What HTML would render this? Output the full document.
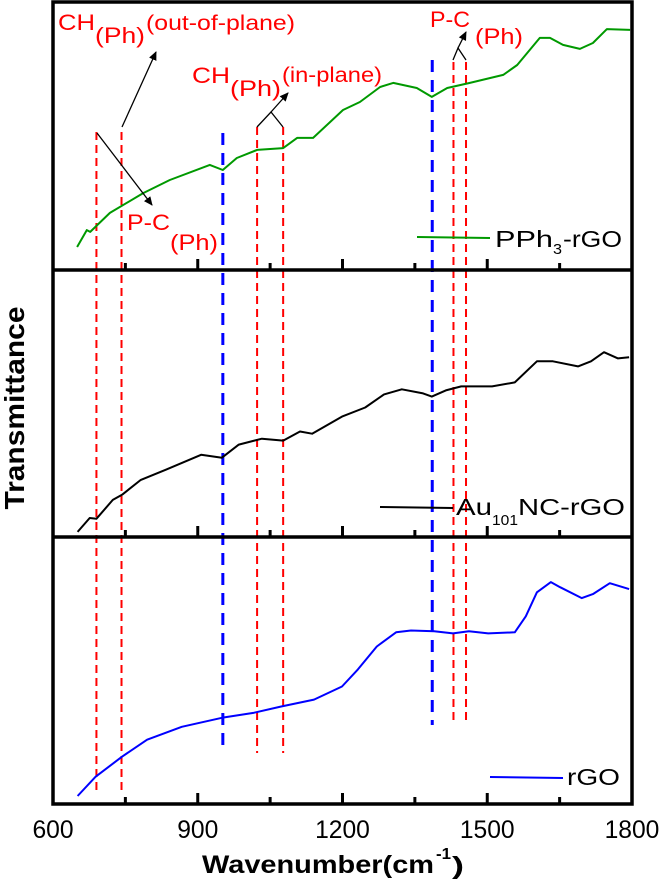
<!DOCTYPE html>
<html><head><meta charset="utf-8"><style>
html,body{margin:0;padding:0;background:#fff;}
svg{display:block;font-family:"Liberation Sans",Arial,sans-serif;}
</style></head><body>
<svg id="chart" width="661" height="881" viewBox="0 0 661 881" xmlns="http://www.w3.org/2000/svg">
<defs><marker id="ah" markerWidth="10" markerHeight="10" refX="8" refY="5" orient="auto" markerUnits="userSpaceOnUse"><path d="M0,1 L9,5 L0,9 z" fill="#000"/></marker></defs>
<g id="marks"></g>
<g id="axes"></g>
<g id="annot" fill="#f00" lengthAdjust="spacingAndGlyphs">
  <g>
    <text x="58" y="30" font-size="22" textLength="37" lengthAdjust="spacingAndGlyphs">CH</text>
    <text x="95" y="43" font-size="22" textLength="50" lengthAdjust="spacingAndGlyphs">(Ph)</text>
    <text x="146" y="30" font-size="21" textLength="149" lengthAdjust="spacingAndGlyphs">(out-of-plane)</text>
  </g>
  <g>
    <text x="127" y="230" font-size="22" textLength="43" lengthAdjust="spacingAndGlyphs">P-C</text>
    <text x="170" y="250" font-size="22" textLength="48" lengthAdjust="spacingAndGlyphs">(Ph)</text>
  </g>
  <g>
    <text x="192" y="83" font-size="22" textLength="38" lengthAdjust="spacingAndGlyphs">CH</text>
    <text x="230" y="96" font-size="22" textLength="51" lengthAdjust="spacingAndGlyphs">(Ph)</text>
    <text x="282" y="82" font-size="21" textLength="100" lengthAdjust="spacingAndGlyphs">(in-plane)</text>
  </g>
  <g>
    <text x="430" y="27" font-size="22" textLength="40" lengthAdjust="spacingAndGlyphs">P-C</text>
    <text x="475" y="44" font-size="22" textLength="48" lengthAdjust="spacingAndGlyphs">(Ph)</text>
  </g>
</g>
<g stroke="#000" stroke-width="1.3" fill="none">
  <line x1="122" y1="127" x2="156" y2="52" marker-end="url(#ah)"/>
  <line x1="97" y1="133" x2="152" y2="205" marker-end="url(#ah)"/>
  <polyline points="257,127 271,112 283,127"/>
  <line x1="271" y1="112" x2="288" y2="93" marker-end="url(#ah)"/>
  <polyline points="453,60 458,48 466,60"/>
  <line x1="458" y1="48" x2="466" y2="32" marker-end="url(#ah)"/>
</g>
<g fill="#000">
  <line x1="417" y1="237" x2="490" y2="238" stroke="#090" stroke-width="2"/>
  <g>
    <text x="495" y="247" font-size="23" textLength="58" lengthAdjust="spacingAndGlyphs">PPh</text>
    <text x="553" y="254" font-size="15" textLength="9" lengthAdjust="spacingAndGlyphs">3</text>
    <text x="563" y="247" font-size="23" textLength="59" lengthAdjust="spacingAndGlyphs">-rGO</text>
  </g>
  <line x1="380" y1="507" x2="453" y2="508" stroke="#000" stroke-width="2"/>
  <g>
    <text x="456" y="515" font-size="23" textLength="36" lengthAdjust="spacingAndGlyphs">Au</text>
    <text x="492" y="525" font-size="15" textLength="26" lengthAdjust="spacingAndGlyphs">101</text>
    <text x="518" y="515" font-size="23" textLength="107" lengthAdjust="spacingAndGlyphs">NC-rGO</text>
  </g>
  <line x1="490" y1="777" x2="563" y2="778" stroke="#00f" stroke-width="2"/>
  <text x="567" y="785" font-size="23" textLength="53" lengthAdjust="spacingAndGlyphs">rGO</text>
</g>
<text x="0" y="0" transform="translate(24 408) rotate(-90)" text-anchor="middle" font-size="28" font-weight="bold" textLength="203" lengthAdjust="spacingAndGlyphs">Transmittance</text>
<g font-weight="bold">
  <text x="202" y="873" font-size="25" textLength="232" lengthAdjust="spacingAndGlyphs">Wavenumber(cm</text>
  <text x="436" y="859" font-size="16" textLength="15" lengthAdjust="spacingAndGlyphs">-1</text>
  <text x="452" y="874" font-size="25" textLength="12" lengthAdjust="spacingAndGlyphs">)</text>
</g>
</svg>
<script>
const pph3W=[650,670,677,718,787,842,925,952,981,1023,1077,1106,1139,1201,1236,1278,1305,1354,1385,1417,1464,1533,1562,1609,1630,1657,1692,1719,1748,1796];
const pph3T=[8.6,14.9,14.2,21.3,28.7,33.6,39.2,37.3,41.8,44.8,45.5,49.3,49.3,59.7,62.7,68.3,69.8,67.9,64.6,67.9,69.8,72.8,76.5,86.6,86.6,84,82.5,84.7,89.9,89.6];
const auW=[651,676,690,724,743,782,834,907,950,985,1033,1077,1112,1137,1199,1247,1286,1323,1367,1385,1414,1446,1510,1557,1603,1636,1688,1715,1742,1771,1794];
const auT=[1.9,7.1,6.8,13.9,15.8,21.4,25.2,30.8,29.7,34.6,36.8,36.1,39.5,38.7,45.1,48.5,53.4,55.3,53.8,52.6,54.9,56.4,56.4,57.9,65.8,65.8,63.9,65.8,69.2,66.9,67.3];
const rgoW=[651,688,743,795,867,950,1017,1073,1141,1199,1232,1271,1311,1342,1390,1429,1462,1502,1557,1580,1603,1632,1651,1696,1719,1754,1794];
const rgoT=[3,10.2,17.7,24.1,28.9,32.3,34.2,36.5,39.1,44,50.4,59,64.3,65,64.7,63.9,64.7,63.9,64.3,70.3,79.3,83.1,81.2,77.1,78.6,82.7,80.5];
const xTicks=[600,750,900,1050,1200,1350,1500,1650,1800];
const xTickLabels=["600","900","1200","1500","1800"];
const redLines=[690,742,1023,1077,1430,1456];
const blueLines=[952,1386];

const NS="http://www.w3.org/2000/svg";
const X0=53,X1=632;
function xs(w){return X0+(w-600)/1200*(X1-X0);}
const panels=[{top:2,bot:270},{top:270,bot:537},{top:537,bot:804}];
function ys(p,v){return panels[p].bot-v/100*(panels[p].bot-panels[p].top);}
function mk(tag,attrs,parent){const e=document.createElementNS(NS,tag);for(const k in attrs)e.setAttribute(k,attrs[k]);parent.appendChild(e);return e;}
const marks=document.getElementById('marks'),axes=document.getElementById('axes');

const redTop=[132,132,127,127,62,62],redBot=[790,790,753,753,722,722];
redLines.forEach((w,i)=>{
  const l=mk('line',{x1:xs(w),x2:xs(w),y1:redTop[i],y2:redBot[i],stroke:'#f00','stroke-width':2,'stroke-dasharray':'8,5'},marks);
  
  
});
const blueTop=[133,60],blueBot=[752,725];
blueLines.forEach((w,i)=>{
  const l=mk('line',{x1:xs(w),x2:xs(w),y1:blueTop[i],y2:blueBot[i],stroke:'#00f','stroke-width':3,'stroke-dasharray':'12,8'},marks);
  
  
});

function series(W,T,p,color,name){
  const pts=W.map((w,i)=>xs(w).toFixed(1)+','+ys(p,T[i]).toFixed(1)).join(' ');
  const pl=mk('polyline',{points:pts,fill:'none',stroke:color,'stroke-width':2,'stroke-linejoin':'round'},marks);
  
  
}
series(pph3W,pph3T,0,'#090','pph3-rgo-line');
series(auW,auT,1,'#000','au101nc-rgo-line');
series(rgoW,rgoT,2,'#00f','rgo-line');

const fr=mk('rect',{x:X0,y:2,width:X1-X0,height:802,fill:'none',stroke:'#000','stroke-width':3.5},axes);


[270,537].forEach(y=>{
  const s=mk('line',{x1:X0,x2:X1,y1:y,y2:y,stroke:'#000','stroke-width':3.5},axes);
  
  
});
panels.forEach(pn=>{
  xTicks.forEach((t,i)=>{
    if(i===0||i===xTicks.length-1)return;
    const len=(i%2===0)?11:7;
    const tk=mk('line',{x1:xs(t),x2:xs(t),y1:pn.bot,y2:pn.bot-len,stroke:'#000','stroke-width':3},axes);
    
    
  });
});
xTickLabels.forEach(l=>{
  const t=mk('text',{x:xs(+l),y:838,'text-anchor':'middle','font-size':25,fill:'#000',textLength:(l.length*13.7).toFixed(1),lengthAdjust:'spacingAndGlyphs'},axes);
  t.textContent=l;
  
  
});
</script>
</body></html>
